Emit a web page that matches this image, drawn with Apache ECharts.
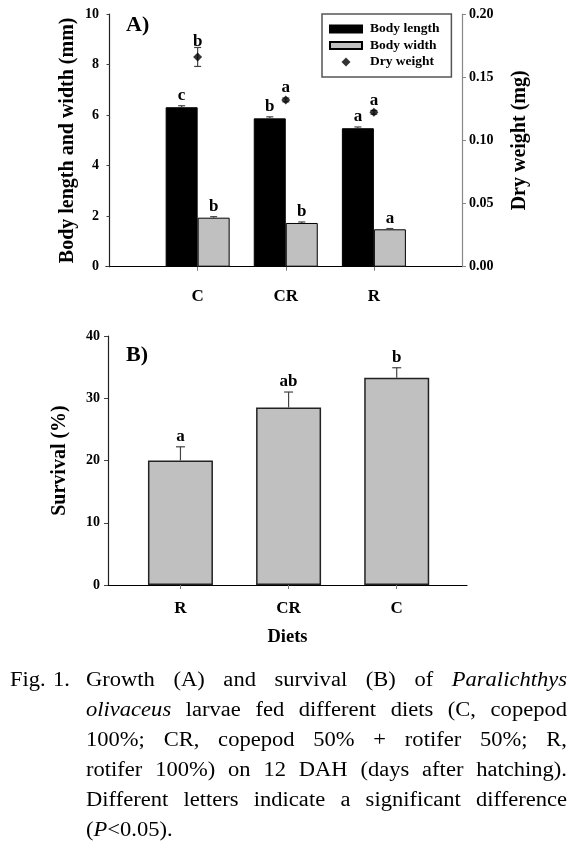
<!DOCTYPE html>
<html>
<head>
<meta charset="utf-8">
<script src="https://cdn.jsdelivr.net/npm/echarts@6/dist/echarts.min.js"></script>
<style>html,body{margin:0;padding:0;background:#fff;}#chart{width:587px;height:848px;}</style>
</head>
<body>
<div id="chart"></div>
<script>
// ---------- data ----------
const categoriesA = ['C', 'CR', 'R'];
const bodyLength = [6.31, 5.87, 5.48];
const bodyLengthErr = [0.06, 0.06, 0.05];
const bodyWidth = [1.94, 1.73, 1.48];
const bodyWidthErr = [0.04, 0.04, 0.03];
const dryWeight = [0.166, 0.132, 0.1222];
const dryWeightErr = [0.0075, 0.0015, 0.0015];
const lettersLength = ['c', 'b', 'a'];
const lettersWidth = ['b', 'b', 'a'];
const lettersWeight = ['b', 'a', 'a'];

const categoriesB = ['R', 'CR', 'C'];
const survival = [20.0, 28.5, 33.3];
const survivalErr = [2.2, 2.5, 1.6];
const lettersSurvival = ['a', 'ab', 'b'];

const captionLines = [
  [['Growth'], ['(A)'], ['and'], ['survival'], ['(B)'], ['of'], [['Paralichthys', true]]],
  [[['olivaceus', true]], ['larvae'], ['fed'], ['different'], ['diets'], ['(C,'], ['copepod']],
  [['100%;'], ['CR,'], ['copepod'], ['50%'], ['+'], ['rotifer'], ['50%;'], ['R,']],
  [['rotifer'], ['100%)'], ['on'], ['12'], ['DAH'], ['(days'], ['after'], ['hatching).']],
  [['Different'], ['letters'], ['indicate'], ['a'], ['significant'], ['difference']],
  [['(', ['P', true], '<0.05).']]
];

// ---------- helpers ----------
const SERIF = '"Liberation Serif", "Times New Roman", serif';
const chart = echarts.init(document.getElementById('chart'), null, {renderer: 'canvas'});

function errRenderer(letters, offset, capHalf, gap, both, dry) {
  return function (params, api) {
    const x = api.value(0), v = api.value(1), e = api.value(2);
    const base = api.coord([x, v]);
    const top = api.coord([x, v + e]);
    const bot = api.coord([x, v - e]);
    const cx = base[0] + offset;
    const children = [];
    const y0 = both ? bot[1] : base[1];
    children.push({type: 'line', shape: {x1: cx, y1: y0, x2: cx, y2: top[1]}, style: {stroke: '#444', lineWidth: 1.2}});
    children.push({type: 'line', shape: {x1: cx - capHalf, y1: top[1], x2: cx + capHalf, y2: top[1]}, style: {stroke: '#444', lineWidth: 1.2}});
    if (both) children.push({type: 'line', shape: {x1: cx - capHalf, y1: bot[1], x2: cx + capHalf, y2: bot[1]}, style: {stroke: '#444', lineWidth: 1.2}});
    let ly = top[1] - gap;
    if (dry) ly = Math.min(top[1] - 6, base[1] - 12);
    children.push({type: 'text', x: cx, y: ly, style: {text: letters[params.dataIndex], fill: '#000', font: 'bold 17px ' + SERIF, align: 'center', verticalAlign: 'middle'}});
    return {type: 'group', children: children};
  };
}

// ---------- caption ----------
const mctx = document.createElement('canvas').getContext('2d');
const CAP_SIZE = 20.5;
const CAP_SX = 1.1;
function segFont(it) { return (it ? 'italic ' : '') + CAP_SIZE + 'px ' + SERIF; }
function segWidth(t, it) { mctx.font = segFont(it); return mctx.measureText(t).width * CAP_SX; }
function normSegs(word) { return word.map(s => Array.isArray(s) ? s : [s, false]); }
function capText(t, x, y, it) {
  return {type: 'text', x: x, y: y, scaleX: CAP_SX, style: {text: t, font: segFont(it), fill: '#000', verticalAlign: 'middle'}};
}
const captionGraphics = [];
const capLeft = 86, capRight = 567, capTop = 681, capStep = 30;
captionGraphics.push(capText('Fig.', 10, capTop, false));
captionGraphics.push(capText('1.', 53, capTop, false));
captionLines.forEach((line, li) => {
  const words = line.map(normSegs);
  const widths = words.map(w => w.reduce((s, sg) => s + segWidth(sg[0], sg[1]), 0));
  const total = widths.reduce((a, b) => a + b, 0);
  const last = li === captionLines.length - 1;
  const gap = (last || words.length < 2) ? segWidth(' ', false) : (capRight - capLeft - total) / (words.length - 1);
  let x = capLeft;
  const y = capTop + li * capStep;
  words.forEach((w, wi) => {
    let sx = x;
    w.forEach(sg => {
      captionGraphics.push(capText(sg[0], sx, y, sg[1]));
      sx += segWidth(sg[0], sg[1]);
    });
    x += widths[wi] + gap;
  });
});

// ---------- option ----------
const tickLabel = {fontFamily: SERIF, fontWeight: 'bold', fontSize: 14, color: '#000'};
const nameStyle = {fontFamily: SERIF, fontWeight: 'bold', fontSize: 20, color: '#000'};
const rectIcon = 'path://M0,0M32,10M0,1.5L32,1.5L32,8.5L0,8.5Z';
const diamondIcon = 'path://M0,0M32,10M16,0.5L20.5,5L16,9.5L11.5,5Z';

const option = {
  animation: false,
  backgroundColor: '#fff',
  grid: [
    {left: 106, top: 14, width: 356, height: 252.7},
    {left: 108, top: 336, width: 359, height: 249}
  ],
  legend: {
    data: [{name: 'Body length', icon: rectIcon}, {name: 'Body width', icon: rectIcon}, {name: 'Dry weight', icon: diamondIcon}],
    orient: 'vertical',
    left: 322, top: 14,
    padding: [8, 12, 8, 7],
    itemWidth: 32, itemHeight: 10, itemGap: 2.5,
    borderColor: '#555', borderWidth: 1.5,
    textStyle: {fontFamily: SERIF, fontWeight: 'bold', fontSize: 13.5, color: '#000', lineHeight: 14, padding: [0, 0, 0, 3]}
  },
  xAxis: [
    {
      gridIndex: 0, type: 'value', min: -0.04, max: 4,
      splitLine: {show: false},
      axisLine: {lineStyle: {color: '#000', width: 1.2}},
      axisTick: {customValues: [1, 2, 3], length: 4, lineStyle: {color: '#777'}},
      axisLabel: {customValues: [1, 2, 3], margin: 21, fontSize: 17, fontFamily: SERIF, fontWeight: 'bold', color: '#000', formatter: v => categoriesA[Math.round(v) - 1]}
    },
    {
      gridIndex: 1, type: 'value', min: 0.33, max: 3.65,
      splitLine: {show: false},
      axisLine: {lineStyle: {color: '#000', width: 1.2}},
      axisTick: {customValues: [1, 2, 3], length: 4, lineStyle: {color: '#777'}},
      axisLabel: {customValues: [1, 2, 3], margin: 15, fontSize: 17, fontFamily: SERIF, fontWeight: 'bold', color: '#000', formatter: v => categoriesB[Math.round(v) - 1]},
      name: 'Diets', nameLocation: 'middle', nameGap: 43, nameMoveOverlap: false,
      nameTextStyle: {fontFamily: SERIF, fontWeight: 'bold', fontSize: 18.5, color: '#000'}
    }
  ],
  yAxis: [
    {
      gridIndex: 0, type: 'value', min: 0, max: 10, interval: 2,
      splitLine: {show: false},
      axisLine: {show: true, lineStyle: {color: '#222', width: 1.2}},
      axisTick: {show: true, length: 3, lineStyle: {color: '#444'}},
      axisLabel: Object.assign({margin: 7}, tickLabel),
      name: 'Body length and width (mm)', nameLocation: 'middle', nameRotate: 90, nameGap: 28, nameMoveOverlap: false,
      nameTextStyle: nameStyle
    },
    {
      gridIndex: 0, type: 'value', min: 0, max: 0.2, interval: 0.05, position: 'right',
      splitLine: {show: false},
      axisLine: {show: true, lineStyle: {color: '#888', width: 1.2}},
      axisTick: {show: true, length: 4, lineStyle: {color: '#888'}},
      axisLabel: Object.assign({margin: 7, formatter: v => v.toFixed(2)}, tickLabel),
      name: 'Dry weight (mg)', nameLocation: 'middle', nameRotate: 90, nameGap: 48, nameMoveOverlap: false,
      nameTextStyle: nameStyle
    },
    {
      gridIndex: 1, type: 'value', min: 0, max: 40, interval: 10,
      splitLine: {show: false},
      axisLine: {show: true, lineStyle: {color: '#222', width: 1.2}},
      axisTick: {show: true, length: 4, lineStyle: {color: '#444'}},
      axisLabel: Object.assign({margin: 8}, tickLabel),
      name: 'Survival (%)', nameLocation: 'middle', nameRotate: 90, nameGap: 38, nameMoveOverlap: false,
      nameTextStyle: nameStyle
    }
  ],
  series: [
    {
      name: 'Body length', type: 'bar', xAxisIndex: 0, yAxisIndex: 0,
      barWidth: 32, barGap: '0%',
      itemStyle: {color: '#000', borderColor: '#000', borderWidth: 1},
      data: bodyLength.map((v, i) => [i + 1, v])
    },
    {
      name: 'Body width', type: 'bar', xAxisIndex: 0, yAxisIndex: 0,
      barWidth: 32, barGap: '0%',
      itemStyle: {color: '#c0c0c0', borderColor: '#000', borderWidth: 1},
      data: bodyWidth.map((v, i) => [i + 1, v])
    },
    {
      type: 'custom', xAxisIndex: 0, yAxisIndex: 0, z: 5,
      renderItem: errRenderer(lettersLength, -16, 3.5, 10, false, false),
      data: bodyLength.map((v, i) => [i + 1, v, bodyLengthErr[i]])
    },
    {
      type: 'custom', xAxisIndex: 0, yAxisIndex: 0, z: 5,
      renderItem: errRenderer(lettersWidth, 16, 3.5, 10, false, false),
      data: bodyWidth.map((v, i) => [i + 1, v, bodyWidthErr[i]])
    },
    {
      type: 'custom', xAxisIndex: 0, yAxisIndex: 1, z: 5,
      renderItem: errRenderer(lettersWeight, 0, 3.5, 6, true, true),
      data: dryWeight.map((v, i) => [i + 1, v, dryWeightErr[i]])
    },
    {
      name: 'Dry weight', type: 'scatter', xAxisIndex: 0, yAxisIndex: 1, z: 6,
      symbol: 'diamond', symbolSize: 9,
      itemStyle: {color: '#000'},
      data: dryWeight.map((v, i) => [i + 1, v])
    },
    {
      name: 'Survival', type: 'bar', xAxisIndex: 1, yAxisIndex: 2,
      barWidth: 65,
      itemStyle: {color: '#c0c0c0', borderColor: '#222', borderWidth: 1.5},
      data: survival.map((v, i) => [i + 1, v])
    },
    {
      type: 'custom', xAxisIndex: 1, yAxisIndex: 2, z: 5,
      renderItem: errRenderer(lettersSurvival, 0, 4.5, 10, false, false),
      data: survival.map((v, i) => [i + 1, v, survivalErr[i]])
    }
  ],
  graphic: [
    {type: 'text', x: 126, y: 25, style: {text: 'A)', font: 'bold 22px ' + SERIF, fill: '#000', verticalAlign: 'middle'}},
    {type: 'text', x: 126, y: 355, style: {text: 'B)', font: 'bold 22px ' + SERIF, fill: '#000', verticalAlign: 'middle'}}
  ].concat(captionGraphics)
};
chart.setOption(option);
</script>
</body>
</html>
